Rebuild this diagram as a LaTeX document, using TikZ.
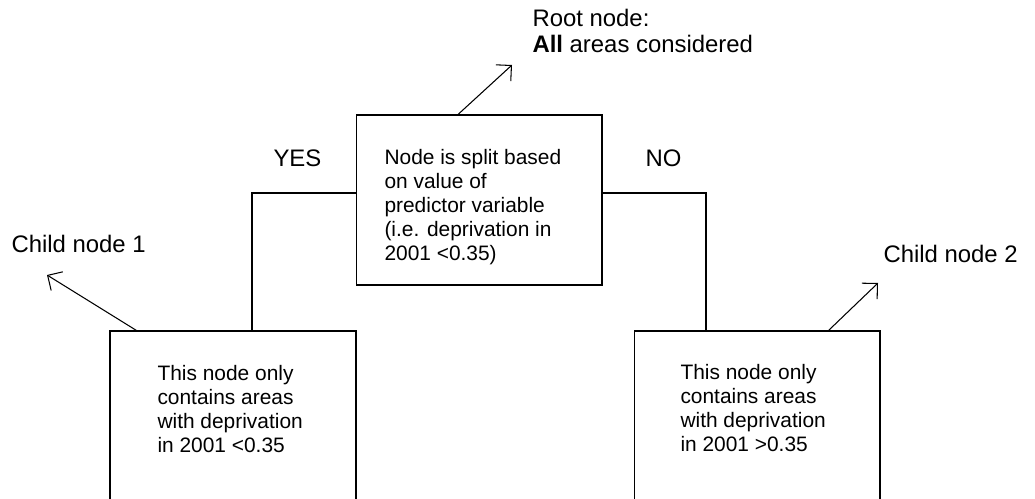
\documentclass[tikz,border=0pt]{standalone}
\usepackage{fontspec}
\setmainfont{Liberation Sans}
\usetikzlibrary{arrows.meta}
\tikzset{
  box/.style={draw, rectangle, inner sep=0pt, line width=0.6pt},
  boxtext/.style={anchor=base west, align=left, inner sep=0pt,
    font=\fontsize{11.9}{13.8}\selectfont},
  lbl/.style={anchor=base west, align=left, inner sep=0pt,
    font=\fontsize{13.6}{14.8}\selectfont},
  arr/.style={line width=0.6pt, -{Straight Barb[length=2.2mm,width=4.4mm]}}
}
\begin{document}
\begin{tikzpicture}[x=0.02cm, y=-0.02cm, line width=0.6pt]
  \useasboundingbox (0,0) rectangle (1035,499);
  \clip (0,0) rectangle (1035,499);
  % Boxes
  \node[box, minimum width=4.92cm, minimum height=3.4cm] (root) at (479,200) {};
  \node[box, minimum width=4.92cm, minimum height=4cm] (cl) at (233,431) {};
  \node[box, minimum width=4.92cm, minimum height=4cm] (cr) at (757,431) {};
  % Box texts (placed at the baseline of their last line)
  \node[boxtext] (roottxt) at (384,261) {Node is split based\\on value of\\predictor variable\\(i.e. deprivation in\\2001 <0.35)};
  \node[boxtext] (cltxt) at (157,453) {This node only\\contains areas\\with deprivation\\in 2001 <0.35};
  \node[boxtext] (crtxt) at (680,452) {This node only\\contains areas\\with deprivation\\in 2001 >0.35};
  % Branches
  \draw ([yshift=0.14cm]root.west) -| ([xshift=0.38cm]cl.north);
  \draw ([yshift=0.14cm]root.east) -| ([xshift=-1.02cm]cr.north);
  \node[lbl] (yes) at (273,167) {YES};
  \node[lbl] (no) at (645,167) {NO};
  % Labels with arrows
  \node[lbl] (rootlbl) at (532,53) {Root node:\\\textbf{All} areas considered};
  \node[lbl] (c1lbl) at (11,253) {Child node 1};
  \node[lbl] (c2lbl) at (883,263) {Child node 2};
  \coordinate (rootend) at (512,65);
  \coordinate (c1end) at (47,275);
  \coordinate (c2end) at (878,283);
  \draw[arr] ([xshift=-0.42cm]root.north) -- (rootend);
  \draw[arr] ([xshift=0.54cm]cl.north west) -- (c1end);
  \draw[arr] ([xshift=-1.04cm]cr.north east) -- (c2end);
\end{tikzpicture}
\end{document}
